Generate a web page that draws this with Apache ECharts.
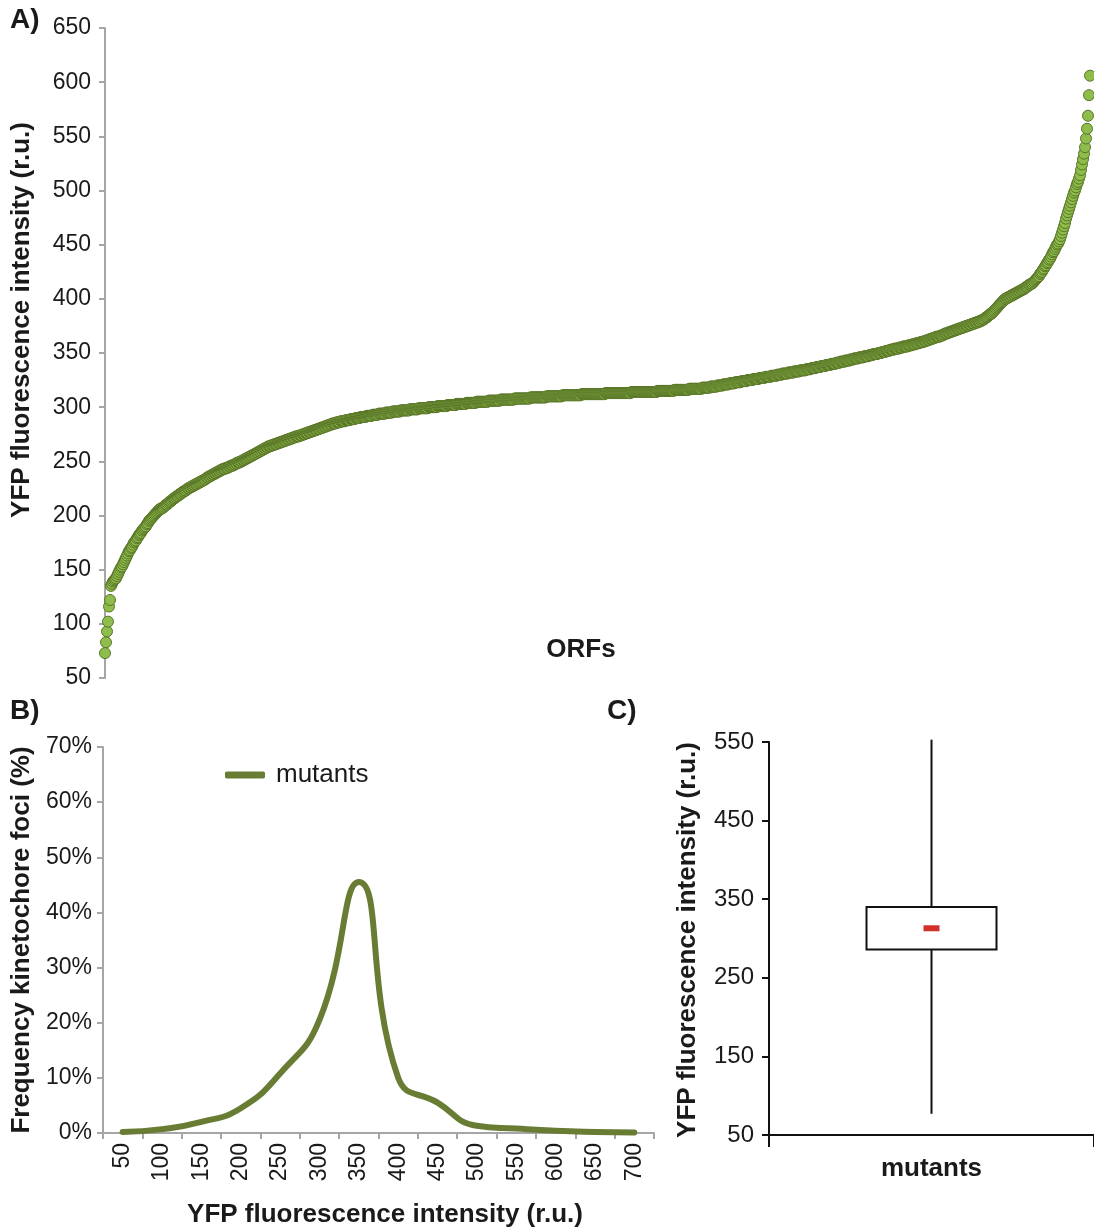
<!DOCTYPE html>
<html>
<head>
<meta charset="utf-8">
<script src="https://cdn.jsdelivr.net/npm/echarts@6/dist/echarts.min.js"></script>
<style>
html,body{margin:0;padding:0;background:#fff;}
#chart{width:1094px;height:1232px;}
</style>
</head>
<body>
<div id="chart"></div>
<script>
// Panel A: ranked YFP intensity of ORF mutants (one value per ORF)
const orfValues = [
73,83,93,102,116,122,135,137,139,140,141,142,144,146,148,150,152,153,155,157,
159,161,163,165,167,168,170,171,173,175,176,177,179,180,182,183,184,186,187,188,
189,190,192,193,195,196,197,198,199,200,201,202,203,204,205,206,206,207,207,208,
209,210,210,211,212,213,213,214,215,216,216,217,218,218,219,220,220,221,222,222,
223,223,224,225,225,226,226,227,227,228,228,229,229,230,230,231,231,232,232,233,
233,234,235,235,236,236,237,237,238,238,239,239,240,240,241,241,242,242,243,243,
243,244,244,244,245,245,246,246,246,247,247,248,248,249,249,249,250,250,251,251,
252,252,253,253,254,254,255,255,256,256,257,257,258,258,259,259,260,260,261,261,
262,262,263,263,264,264,264,265,265,265,266,266,266,267,267,267,268,268,268,269,
269,269,270,270,270,271,271,271,272,272,272,273,273,273,273,274,274,274,275,275,
275,276,276,276,277,277,277,278,278,278,279,279,279,280,280,280,281,281,281,282,
282,282,283,283,283,284,284,284,285,285,285,285,286,286,286,286,287,287,287,287,
287,288,288,288,288,288,289,289,289,289,289,290,290,290,290,290,291,291,291,291,
291,291,292,292,292,292,292,292,293,293,293,293,293,293,294,294,294,294,294,294,
294,295,295,295,295,295,295,295,296,296,296,296,296,296,296,296,297,297,297,297,
297,297,297,297,297,298,298,298,298,298,298,298,298,298,299,299,299,299,299,299,
299,299,299,299,300,300,300,300,300,300,300,300,300,301,301,301,301,301,301,301,
301,301,301,302,302,302,302,302,302,302,302,302,303,303,303,303,303,303,303,303,
303,303,304,304,304,304,304,304,304,304,304,304,305,305,305,305,305,305,305,305,
305,305,305,305,306,306,306,306,306,306,306,306,306,306,306,306,307,307,307,307,
307,307,307,307,307,307,307,307,307,307,308,308,308,308,308,308,308,308,308,308,
308,308,308,308,308,308,309,309,309,309,309,309,309,309,309,309,309,309,309,309,
309,309,310,310,310,310,310,310,310,310,310,310,310,310,310,310,310,310,311,311,
311,311,311,311,311,311,311,311,311,311,311,311,311,311,311,311,311,312,312,312,
312,312,312,312,312,312,312,312,312,312,312,312,312,312,312,312,312,312,312,312,
312,313,313,313,313,313,313,313,313,313,313,313,313,313,313,313,313,313,313,313,
313,313,313,313,313,313,313,314,314,314,314,314,314,314,314,314,314,314,314,314,
314,314,314,314,314,314,314,314,314,314,314,314,314,315,315,315,315,315,315,315,
315,315,315,315,315,315,315,315,315,315,316,316,316,316,316,316,316,316,316,316,
316,316,316,316,316,317,317,317,317,317,317,317,317,317,317,317,317,317,318,318,
318,318,318,318,318,318,319,319,319,319,319,319,319,320,320,320,320,320,320,321,
321,321,321,321,321,322,322,322,322,322,322,323,323,323,323,323,323,324,324,324,
324,324,324,325,325,325,325,325,325,326,326,326,326,326,326,327,327,327,327,327,
327,328,328,328,328,328,328,329,329,329,329,329,329,330,330,330,330,330,331,331,
331,331,331,331,332,332,332,332,332,332,333,333,333,333,333,333,334,334,334,334,
334,334,335,335,335,335,335,336,336,336,336,336,337,337,337,337,337,338,338,338,
338,338,339,339,339,339,339,340,340,340,340,340,341,341,341,341,342,342,342,342,
342,343,343,343,343,343,344,344,344,344,345,345,345,345,345,346,346,346,346,346,
347,347,347,347,347,348,348,348,348,349,349,349,349,349,350,350,350,350,351,351,
351,351,352,352,352,352,353,353,353,353,354,354,354,354,354,355,355,355,355,356,
356,356,356,356,357,357,357,357,358,358,358,358,359,359,359,359,360,360,360,360,
361,361,361,362,362,362,363,363,363,364,364,364,365,365,365,365,366,366,366,367,
367,368,368,368,369,369,369,370,370,370,371,371,371,372,372,372,373,373,373,374,
374,374,375,375,375,376,376,376,377,377,377,378,378,378,379,379,379,380,380,381,
381,382,383,383,384,385,386,386,387,388,389,390,391,392,393,394,395,396,397,398,
399,400,400,401,401,402,402,403,403,404,404,405,405,406,406,407,407,408,408,409,
409,410,411,411,412,413,413,414,414,415,416,417,418,419,420,421,423,424,425,427,
428,430,431,433,434,436,437,439,441,443,444,446,448,450,451,453,455,458,461,464,
467,470,474,477,480,483,486,489,492,495,498,500,503,506,508,511,514,519,524,529,
534,540,548,557,569,588,606
];

// Panel B: frequency distribution (%)
const histCategories = ['50','100','150','200','250','300','350','400','450','500','550','600','650','700'];
const histMutants = [0.2, 0.7, 2.0, 4.5, 10.8, 20.5, 45.5, 10.0, 5.5, 1.3, 0.8, 0.4, 0.2, 0.1];

// Panel C: box plot statistics [lower whisker, Q1, median, Q3, upper whisker]
const boxCategories = ['mutants'];
const boxStats = [77, 286, 313, 340, 553];
const boxTicks = [50, 150, 250, 350, 450, 550];

const FONT = '"Liberation Sans", Arial, sans-serif';
const GRAY = '#a6a6a6';
const TXT = '#1a1a1a';

const chart = echarts.init(document.getElementById('chart'), null, {renderer: 'canvas'});

function boxRender(params, api) {
  const c = api.value(0);
  const low = api.coord([c, api.value(1)]);
  const q1 = api.coord([c, api.value(2)]);
  const med = api.coord([c, api.value(3)]);
  const q3 = api.coord([c, api.value(4)]);
  const high = api.coord([c, api.value(5)]);
  const x = low[0];
  const halfW = api.size([1, 0])[0] * 0.2;
  const ls = {stroke: '#111', lineWidth: 2};
  return {
    type: 'group',
    children: [
      {type: 'line', shape: {x1: x, y1: low[1], x2: x, y2: q1[1]}, style: ls},
      {type: 'line', shape: {x1: x, y1: q3[1], x2: x, y2: high[1]}, style: ls},
      {type: 'rect', shape: {x: x - halfW, y: q3[1], width: 2 * halfW, height: q1[1] - q3[1]},
        style: {fill: '#fff', stroke: '#111', lineWidth: 2}},
      {type: 'rect', shape: {x: x - 8, y: med[1] - 3, width: 16, height: 6}, style: {fill: '#d4302b'}}
    ]
  };
}

const titleFont = 'bold 26px ' + FONT;

const option = {
  animation: false,
  backgroundColor: '#fff',
  textStyle: {fontFamily: FONT},
  grid: [
    {left: 103, top: 28, width: 987, height: 650},
    {left: 103, top: 747, width: 551, height: 386},
    {left: 769, top: 742, width: 325, height: 393}
  ],
  legend: {
    data: ['mutants'],
    left: 220, top: 757,
    icon: 'roundRect', itemWidth: 40, itemHeight: 7,
    textStyle: {fontSize: 26, color: TXT, fontFamily: FONT, padding: [0, 0, 0, 6]},
    selectedMode: false
  },
  xAxis: [
    {gridIndex: 0, type: 'value', min: -2, max: 986, show: false},
    {gridIndex: 1, type: 'category', data: histCategories, boundaryGap: true,
      axisLine: {show: true, lineStyle: {color: GRAY, width: 2}},
      axisTick: {show: true, length: 6, lineStyle: {color: GRAY, width: 2}},
      axisLabel: {rotate: 90, interval: 0, fontSize: 23, color: TXT, fontFamily: FONT, margin: 10},
      splitLine: {show: false}},
    {gridIndex: 2, type: 'category', data: boxCategories, boundaryGap: true,
      axisLine: {show: true, lineStyle: {color: '#111', width: 2}},
      axisTick: {show: true, length: 12, lineStyle: {color: '#111', width: 2}},
      axisLabel: {fontSize: 26, fontWeight: 'bold', color: TXT, fontFamily: FONT, margin: 21},
      splitLine: {show: false}}
  ],
  yAxis: [
    {gridIndex: 0, type: 'value', min: 50, max: 650, interval: 50,
      axisLine: {show: true, lineStyle: {color: GRAY, width: 2}},
      axisTick: {show: true, length: 6, lineStyle: {color: GRAY, width: 2}},
      axisLabel: {fontSize: 23, color: TXT, fontFamily: FONT, margin: 12},
      splitLine: {show: false}},
    {gridIndex: 1, type: 'value', min: 0, max: 70, interval: 10,
      axisLine: {show: true, lineStyle: {color: GRAY, width: 2}},
      axisTick: {show: true, length: 6, lineStyle: {color: GRAY, width: 2}},
      axisLabel: {fontSize: 23, color: TXT, fontFamily: FONT, margin: 11, formatter: '{value}%'},
      splitLine: {show: false}},
    {gridIndex: 2, type: 'value', min: 50, max: 550,
      axisLine: {show: true, lineStyle: {color: '#111', width: 2}},
      axisTick: {show: true, length: 7, lineStyle: {color: '#111', width: 2}, customValues: boxTicks},
      axisLabel: {fontSize: 24, color: TXT, fontFamily: FONT, margin: 15, customValues: boxTicks},
      splitLine: {show: false}}
  ],
  series: [
    {type: 'scatter', xAxisIndex: 0, yAxisIndex: 0, silent: true,
      data: orfValues.map((v, i) => [i, v]),
      symbol: 'circle', symbolSize: 11,
      itemStyle: {color: '#8fbd4c', borderColor: '#5a7628', borderWidth: 1, opacity: 1}},
    {type: 'line', name: 'mutants', xAxisIndex: 1, yAxisIndex: 1, silent: true,
      data: histMutants, smooth: 0.5, showSymbol: false,
      lineStyle: {width: 6, color: '#687c34', cap: 'round', join: 'round'},
      itemStyle: {color: '#687c34'}},
    {type: 'custom', xAxisIndex: 2, yAxisIndex: 2, silent: true,
      renderItem: boxRender,
      encode: {x: 0, y: [1, 2, 3, 4, 5]},
      data: [[0].concat(boxStats)]}
  ],
  graphic: [
    {type: 'text', left: 10, top: 6, style: {text: 'A)', font: 'bold 28px ' + FONT, fill: TXT}},
    {type: 'text', left: 10, top: 697, style: {text: 'B)', font: 'bold 28px ' + FONT, fill: TXT}},
    {type: 'text', left: 607, top: 697, style: {text: 'C)', font: 'bold 28px ' + FONT, fill: TXT}},
    {type: 'text', x: 581, y: 650, style: {text: 'ORFs', font: titleFont, fill: TXT, align: 'center', verticalAlign: 'middle'}},
    {type: 'text', x: 22, y: 320, rotation: Math.PI / 2,
      style: {text: 'YFP fluorescence intensity (r.u.)', font: titleFont, fill: TXT, align: 'center', verticalAlign: 'middle'}},
    {type: 'text', x: 22, y: 940, rotation: Math.PI / 2,
      style: {text: 'Frequency kinetochore foci (%)', font: titleFont, fill: TXT, align: 'center', verticalAlign: 'middle'}},
    {type: 'text', x: 385, y: 1215,
      style: {text: 'YFP fluorescence intensity (r.u.)', font: titleFont, fill: TXT, align: 'center', verticalAlign: 'middle'}},
    {type: 'text', x: 688, y: 940, rotation: Math.PI / 2,
      style: {text: 'YFP fluorescence intensity (r.u.)', font: titleFont, fill: TXT, align: 'center', verticalAlign: 'middle'}}
  ]
};

chart.setOption(option);
</script>
</body>
</html>
